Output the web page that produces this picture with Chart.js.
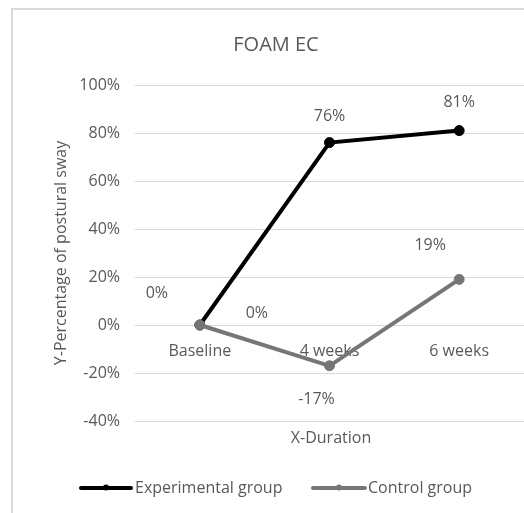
<!DOCTYPE html>
<html>
<head>
<meta charset="utf-8">
<script src="https://cdn.jsdelivr.net/npm/chart.js@4.4.1/dist/chart.umd.min.js"></script>
<style>
  html, body { margin: 0; padding: 0; background: #ffffff; }
  canvas { display: block; }
</style>
</head>
<body>
<canvas id="chart" width="524" height="513"></canvas>
<script>
// Percentage change in postural sway, foam surface, eyes closed
const categories = ['Baseline', '4 weeks', '6 weeks'];
const experimentalGroup = [0, 76, 81];
const controlGroup = [0, -17, 19];
const yMin = -40;
const yMax = 100;
const yStep = 20;

const TEXT = '#595959';
const FONT = "'Open Sans', 'DejaVu Sans', sans-serif";

// Label offsets (px) from each point, per dataset
const labelOffsets = [
  [[-43, -32], [0, -26], [0, -28]],
  [[57, -12], [-13, 34], [-29, -34]]
];

const decorations = {
  id: 'decorations',
  beforeDraw(chart) {
    const ctx = chart.ctx;
    ctx.save();
    ctx.strokeStyle = '#d9d9d9';
    ctx.lineWidth = 2;
    ctx.strokeRect(12, 9, 600, 600);
    ctx.restore();
  },
  afterDatasetsDraw(chart) {
    const ctx = chart.ctx;
    ctx.save();
    ctx.fillStyle = TEXT;
    ctx.textAlign = 'center';
    ctx.textBaseline = 'middle';

    // value labels
    ctx.font = '16px ' + FONT;
    chart.data.datasets.forEach((ds, di) => {
      const meta = chart.getDatasetMeta(di);
      meta.data.forEach((pt, i) => {
        const [dx, dy] = labelOffsets[di][i];
        ctx.fillText(ds.data[i] + '%', pt.x + dx, pt.y + dy);
      });
    });

    // chart title
    ctx.font = '20px ' + FONT;
    ctx.fillText('FOAM EC', 276, 45);

    // horizontal axis title
    ctx.font = '16px ' + FONT;
    ctx.fillText('X-Duration', 331, 438);

    // legend
    const legendItems = [
      { x0: 81, x1: 131, tx: 135 },
      { x0: 313, x1: 365, tx: 368 }
    ];
    chart.data.datasets.forEach((ds, di) => {
      const it = legendItems[di];
      const y = 488;
      ctx.strokeStyle = ds.borderColor;
      ctx.lineWidth = 4;
      ctx.lineCap = 'round';
      ctx.beginPath();
      ctx.moveTo(it.x0, y);
      ctx.lineTo(it.x1, y);
      ctx.stroke();
      ctx.fillStyle = ds.borderColor;
      ctx.beginPath();
      ctx.arc((it.x0 + it.x1) / 2, y - 0.5, 3, 0, Math.PI * 2);
      ctx.fill();
      ctx.fillStyle = TEXT;
      ctx.textAlign = 'left';
      ctx.fillText(ds.label, it.tx, y);
    });
    ctx.restore();
  }
};

new Chart(document.getElementById('chart'), {
  type: 'line',
  data: {
    labels: categories,
    datasets: [
      {
        label: 'Experimental group',
        data: experimentalGroup,
        borderColor: '#000000',
        backgroundColor: '#000000',
        borderWidth: 4,
        pointRadius: 5,
        pointBorderWidth: 1,
        tension: 0,
        order: 1
      },
      {
        label: 'Control group',
        data: controlGroup,
        borderColor: '#767676',
        backgroundColor: '#767676',
        borderWidth: 4,
        pointRadius: 5,
        pointBorderWidth: 1,
        tension: 0,
        order: 0
      }
    ]
  },
  options: {
    responsive: false,
    animation: false,
    layout: { autoPadding: false, padding: { left: 52, top: 85, right: 0, bottom: 92 } },
    plugins: {
      legend: { display: false },
      title: { display: false },
      tooltip: { enabled: false }
    },
    scales: {
      x: {
        type: 'category',
        offset: true,
        position: { y: 0 },
        afterFit(scale) { scale.paddingLeft = 0; scale.paddingRight = 0; },
        grid: { display: false, drawTicks: false },
        border: { display: false },
        ticks: {
          color: TEXT,
          font: { family: FONT, size: 16 },
          padding: 17,
          maxRotation: 0
        }
      },
      y: {
        min: yMin,
        max: yMax,
        afterFit(scale) { scale.width = 83; },
        grid: { color: '#d9d9d9', lineWidth: 1, drawTicks: false },
        border: { display: false },
        ticks: {
          stepSize: yStep,
          color: TEXT,
          font: { family: FONT, size: 16 },
          padding: 15,
          callback: (v) => v + '%'
        },
        title: {
          display: true,
          text: 'Y-Percentage of postural sway',
          color: TEXT,
          font: { family: FONT, size: 16 },
          padding: 0
        }
      }
    }
  },
  plugins: [decorations]
});
</script>
</body>
</html>
